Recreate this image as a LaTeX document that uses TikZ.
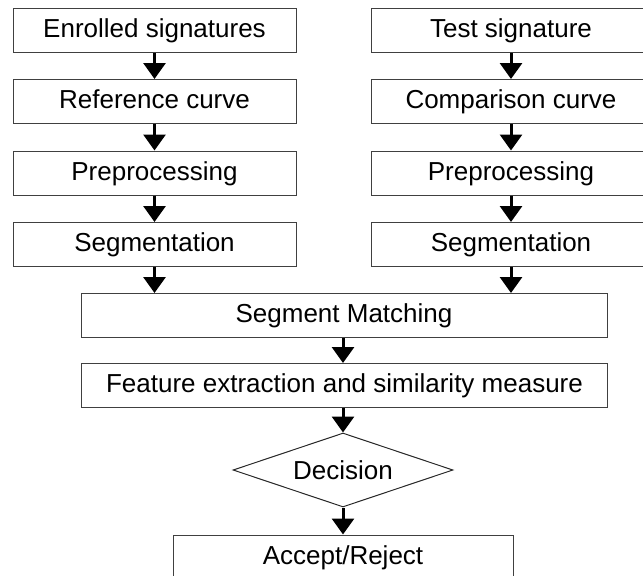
\documentclass[tikz,border=0pt]{standalone}
\usepackage{fontspec}
\setmainfont{Liberation Sans}
\usepackage{tikz}
\usetikzlibrary{arrows.meta,shapes.geometric}

\begin{document}
\begin{tikzpicture}[x=1pt, y=-1pt,
        font=\fontsize{26}{30}\selectfont,
        stage/.style={draw=black!75, line width=1pt, minimum width=283pt, minimum height=44pt, inner sep=0pt, text height=19pt, text depth=5pt},
        wide/.style={stage, minimum width=526pt},
        decide/.style={diamond, draw=black!85, line width=1pt, aspect=2.97, minimum width=220pt, minimum height=74pt, inner sep=0pt},
        flow/.style={line width=3pt, -{Triangle[width=22pt,length=16pt]}}]
            \useasboundingbox (0,0) rectangle (643,576);
            % left column
            \node[stage] (enrolled) at (154.5,30.5) {Enrolled signatures};
            \node[stage] (refcurve) at (154.5,101.5) {Reference curve};
            \node[stage] (prepA) at (154.5,173) {Preprocessing};
            \node[stage] (segA) at (154.5,244.5) {Segmentation};
            % right column
            \node[stage, minimum width=280pt] (testsig) at (511,30.5) {Test signature};
            \node[stage, minimum width=280pt] (compcurve) at (511,101.5) {Comparison curve};
            \node[stage, minimum width=280pt] (prepB) at (511,173) {Preprocessing};
            \node[stage, minimum width=280pt] (segB) at (511,244.5) {Segmentation};
            % common part
            \node[wide] (matching) at (344,315.5) {Segment Matching};
            \node[wide] (features) at (344.5,385.5) {Feature extraction and similarity measure};
            \node[decide] (decision) at (343,470) {Decision};
            \node[stage, minimum width=340pt] (verdict) at (343,557) {Accept/Reject};

            \draw[flow] (enrolled) -- (refcurve);
            \draw[flow] (refcurve) -- (prepA);
            \draw[flow] (prepA) -- (segA);
            \draw[flow] (testsig) -- (compcurve);
            \draw[flow] (compcurve) -- (prepB);
            \draw[flow] (prepB) -- (segB);
            \draw[flow] (segA.south) -- (segA.south |- matching.north);
            \draw[flow] (segB.south) -- (segB.south |- matching.north);
            \draw[flow] (matching.south -| decision.north) -- (decision.north |- features.north);
            \draw[flow] (features.south -| decision.north) -- (decision.north);
            \draw[flow] (decision.south) -- (verdict.north);
        \end{tikzpicture}
\end{document}
